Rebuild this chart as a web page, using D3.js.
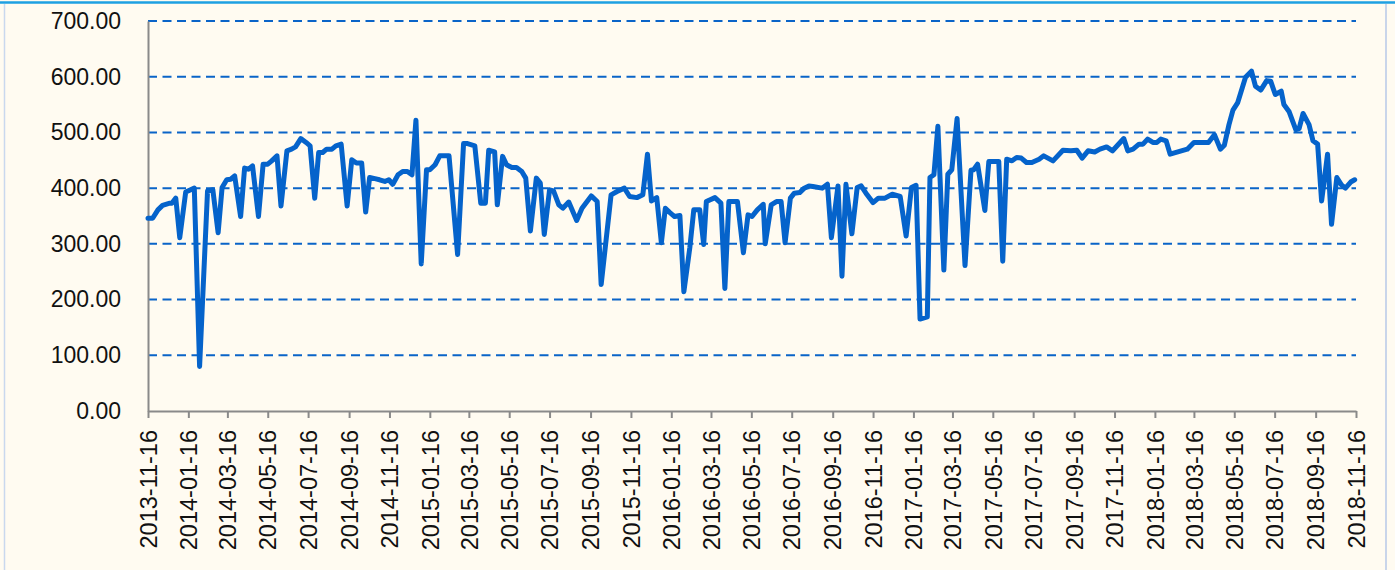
<!DOCTYPE html>
<html>
<head>
<meta charset="utf-8">
<script src="https://cdn.jsdelivr.net/npm/d3@7"></script>
<style>
  html, body { margin: 0; padding: 0; background: #fffbf1; }
  svg { display: block; }
</style>
</head>
<body>
<div id="chart"></div>
<script>
const width = 1395, height = 570;
const margin = {top: 21, right: 39, bottom: 159, left: 148};

// traced points of the series
const dates = [
  '2013-11-16','2013-11-23','2013-12-01','2013-12-08','2013-12-19','2013-12-22','2013-12-28','2014-01-03','2014-01-12','2014-01-25',
  '2014-02-02','2014-02-14','2014-02-22','2014-03-02','2014-03-08','2014-03-15','2014-03-21','2014-03-27','2014-04-05','2014-04-11',
  '2014-04-17','2014-04-23','2014-05-02','2014-05-09','2014-05-16','2014-05-22','2014-05-30','2014-06-05','2014-06-14','2014-06-21',
  '2014-06-27','2014-07-05','2014-07-13','2014-07-19','2014-07-26','2014-08-01','2014-08-07','2014-08-13','2014-08-21','2014-08-27',
  '2014-09-04','2014-09-13','2014-09-20','2014-09-27','2014-10-05','2014-10-11','2014-10-17','2014-10-25','2014-11-01','2014-11-09',
  '2014-11-15','2014-11-21','2014-11-29','2014-12-06','2014-12-13','2014-12-20','2014-12-26','2015-01-03','2015-01-11','2015-01-16',
  '2015-01-24','2015-01-31','2015-02-14','2015-02-27','2015-03-08','2015-03-14','2015-03-25','2015-04-03','2015-04-10','2015-04-15',
  '2015-04-24','2015-04-28','2015-05-06','2015-05-12','2015-05-20','2015-05-27','2015-06-04','2015-06-10','2015-06-17','2015-06-26',
  '2015-07-02','2015-07-08','2015-07-16','2015-07-22','2015-07-30','2015-08-05','2015-08-14','2015-08-26','2015-09-03','2015-09-17',
  '2015-09-26','2015-10-02','2015-10-17','2015-10-26','2015-11-06','2015-11-14','2015-11-25','2015-12-04','2015-12-11','2015-12-17',
  '2015-12-25','2016-01-01','2016-01-07','2016-01-13','2016-01-21','2016-01-29','2016-02-04','2016-02-13','2016-02-19','2016-02-28',
  '2016-03-05','2016-03-09','2016-03-22','2016-03-31','2016-04-06','2016-04-12','2016-04-25','2016-05-04','2016-05-11','2016-05-17',
  '2016-05-25','2016-06-03','2016-06-06','2016-06-15','2016-06-23','2016-06-30','2016-07-06','2016-07-14','2016-07-20','2016-07-28',
  '2016-08-04','2016-08-11','2016-08-17','2016-08-31','2016-09-08','2016-09-14','2016-09-24','2016-09-30','2016-10-06','2016-10-15',
  '2016-10-23','2016-10-29','2016-11-07','2016-11-16','2016-11-24','2016-12-04','2016-12-15','2016-12-27','2017-01-05','2017-01-13',
  '2017-01-20','2017-01-26','2017-02-06','2017-02-10','2017-02-16','2017-02-22','2017-03-03','2017-03-09','2017-03-15','2017-03-23',
  '2017-04-04','2017-04-13','2017-04-17','2017-04-23','2017-05-04','2017-05-10','2017-05-25','2017-05-31','2017-06-06','2017-06-14',
  '2017-06-21','2017-06-28','2017-07-06','2017-07-14','2017-07-25','2017-08-01','2017-08-15','2017-08-30','2017-09-11','2017-09-20',
  '2017-09-28','2017-10-07','2017-10-17','2017-10-25','2017-11-04','2017-11-13','2017-11-30','2017-12-06','2017-12-14','2017-12-23',
  '2017-12-29','2018-01-05','2018-01-13','2018-01-19','2018-01-25','2018-02-02','2018-02-08','2018-03-06','2018-03-16','2018-04-07',
  '2018-04-16','2018-04-25','2018-05-01','2018-05-08','2018-05-14','2018-05-21','2018-06-02','2018-06-11','2018-06-17','2018-06-25',
  '2018-07-04','2018-07-10','2018-07-17','2018-07-26','2018-07-30','2018-08-07','2018-08-17','2018-08-22','2018-08-28','2018-09-06',
  '2018-09-12','2018-09-19','2018-09-25','2018-10-04','2018-10-10','2018-10-18','2018-10-25','2018-10-31','2018-11-08','2018-11-14'
];
const values = [
  346,346,361,369,373,373,382,311,393,400,
  80,395,397,320,401,415,416,422,349,436,
  434,440,349,443,443,449,458,368,467,470,
  474,489,482,476,382,464,464,470,470,476,
  479,368,451,445,445,357,419,417,415,412,
  415,407,424,430,430,424,522,264,433,433,
  442,458,458,281,480,480,476,373,373,468,
  465,370,457,442,437,437,430,418,323,418,
  409,317,397,395,370,364,375,342,364,386,
  376,227,388,394,400,385,383,388,461,377,
  383,302,364,357,349,351,214,293,361,361,
  299,376,383,373,220,376,376,284,352,349,
  361,371,300,370,376,376,302,382,391,392,
  400,404,403,400,407,311,404,242,407,318,
  401,404,388,374,382,382,389,385,314,401,
  405,165,169,419,424,511,253,425,433,525,
  261,432,433,443,360,448,448,269,452,449,
  455,454,446,446,452,458,449,468,467,468,
  454,467,465,470,474,467,489,467,470,479,
  479,488,482,482,488,485,461,470,482,482,
  496,470,477,514,540,553,599,610,583,576,
  593,592,568,574,550,537,505,507,534,514,
  485,479,377,461,335,419,406,400,411,415
];

const xTickLabels = [
  '2013-11-16','2014-01-16','2014-03-16','2014-05-16','2014-07-16','2014-09-16','2014-11-16','2015-01-16',
  '2015-03-16','2015-05-16','2015-07-16','2015-09-16','2015-11-16','2016-01-16','2016-03-16','2016-05-16',
  '2016-07-16','2016-09-16','2016-11-16','2017-01-16','2017-03-16','2017-05-16','2017-07-16','2017-09-16',
  '2017-11-16','2018-01-16','2018-03-16','2018-05-16','2018-07-16','2018-09-16','2018-11-16'
];
const yTicks = [0, 100, 200, 300, 400, 500, 600, 700];

const parse = d3.timeParse('%Y-%m-%d');
const data = dates.map((d, i) => ({date: parse(d), value: values[i]}));
const tickDates = xTickLabels.map(parse);

const plotWidth = width - margin.left - margin.right;
const plotHeight = height - margin.top - margin.bottom;

let svg = d3.select('#chart').append('svg')
    .attr('width', width)
    .attr('height', height);

svg.append('rect')
    .attr('width', width).attr('height', height)
    .attr('fill', '#fffbf1');

// frame lines
svg.append('line')
    .attr('x1', 0).attr('x2', width).attr('y1', 2.5).attr('y2', 2.5)
    .attr('stroke', '#1ea0e2').attr('stroke-width', 2.5);
svg.append('line')
    .attr('x1', 4.5).attr('x2', 4.5).attr('y1', 4).attr('y2', height)
    .attr('stroke', '#c9d8ee').attr('stroke-width', 1.5);
svg.append('line')
    .attr('x1', 1386).attr('x2', 1386).attr('y1', 4).attr('y2', height)
    .attr('stroke', '#c9d5ea').attr('stroke-width', 2);

const g = svg.append('g')
    .attr('transform', `translate(${margin.left},${margin.top})`);

const xScale = d3.scaleTime()
    .domain([tickDates[0], tickDates[tickDates.length - 1]])
    .range([0, plotWidth]);

const yScale = d3.scaleLinear()
    .domain([0, 700])
    .range([plotHeight, 0]);

// dashed gridlines
g.selectAll('.grid')
    .data(yTicks.filter(d => d > 0))
    .enter()
    .append('line')
        .attr('x1', 0).attr('x2', plotWidth)
        .attr('y1', d => yScale(d)).attr('y2', d => yScale(d))
        .attr('stroke', '#0a64c8')
        .attr('stroke-width', 2)
        .attr('stroke-dasharray', '9,5.5');

// y axis
const yAxis = g.append('g')
    .call(d3.axisLeft(yScale).tickValues(yTicks).tickSize(0).tickPadding(27)
        .tickFormat(d3.format('.2f')));
yAxis.select('.domain').attr('stroke', '#8a8a8a').attr('stroke-width', 2);
yAxis.selectAll('text')
    .attr('font-family', '"Liberation Sans", Arial, sans-serif')
    .attr('font-size', 23)
    .attr('fill', '#111');

// x axis
const xAxis = g.append('g')
    .attr('transform', `translate(0,${plotHeight})`)
    .call(d3.axisBottom(xScale).tickValues(tickDates).tickSize(7).tickSizeOuter(0)
        .tickFormat(d3.timeFormat('%Y-%m-%d')));
xAxis.select('.domain').attr('stroke', '#8a8a8a').attr('stroke-width', 2);
xAxis.selectAll('.tick line').attr('stroke', '#8a8a8a').attr('stroke-width', 2);
xAxis.selectAll('text')
    .attr('font-family', '"Liberation Sans", Arial, sans-serif')
    .attr('font-size', 23.5)
    .attr('fill', '#111')
    .attr('text-anchor', 'end')
    .attr('transform', 'rotate(-90)')
    .attr('x', -19)
    .attr('y', 0)
    .attr('dy', '0.35em');

// series line
const line = d3.line()
    .x(d => xScale(d.date))
    .y(d => yScale(d.value));

g.append('path')
    .datum(data)
    .attr('fill', 'none')
    .attr('stroke', '#0563cb')
    .attr('stroke-width', 5)
    .attr('stroke-linejoin', 'round')
    .attr('stroke-linecap', 'round')
    .attr('d', line);
</script>
</body>
</html>
